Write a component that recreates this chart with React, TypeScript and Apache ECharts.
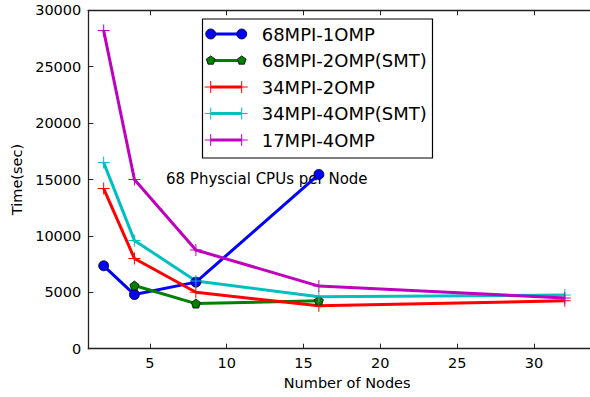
import React, { useEffect, useRef } from "react";
import * as echarts from "echarts";

const seriesNames = ["68MPI-1OMP", "68MPI-2OMP(SMT)", "34MPI-2OMP", "34MPI-4OMP(SMT)", "17MPI-4OMP"];
const nodes68x1 = [2, 4, 8, 16];
const time68x1 = [7350, 4800, 5900, 15450];
const nodes68x2 = [4, 8, 16];
const time68x2 = [5600, 4000, 4250];
const nodesAll = [2, 4, 8, 16, 32];
const time34x2 = [14200, 8000, 5000, 3800, 4250];
const time34x4 = [16500, 9600, 6000, 4600, 4750];
const time17x4 = [28200, 15000, 8750, 5550, 4500];
const xTicks = [5, 10, 15, 20, 25, 30];
const annotation = "68 Physcial CPUs per Node";

const colors = ["#0000ff", "#008000", "#ff0000", "#00bfbf", "#bf00bf"];
const FONT = "DejaVu Sans";

const PLUS = "path://M0,5.5H12V6.5H0Z M5.5,0H6.5V12H5.5Z";
const PENTA = "path://M5,0L9.76,3.45L7.94,9.05L2.06,9.05L0.24,3.45Z";

const pairs = (xs: number[], ys: number[]) => xs.map((x, i) => [x, ys[i]]);

function markerGraphic(kind: string, cx: number, cy: number, color: string): any[] {
  if (kind === "circle") {
    return [{ type: "circle", shape: { cx, cy, r: 5 }, style: { fill: color, stroke: "#000", lineWidth: 0.8 }, z: 12 }];
  }
  if (kind === "penta") {
    const pts: number[][] = [];
    for (let k = 0; k < 5; k++) {
      const a = -Math.PI / 2 + (k * 2 * Math.PI) / 5;
      pts.push([cx + 4.6 * Math.cos(a), cy + 4.6 * Math.sin(a)]);
    }
    return [{ type: "polygon", shape: { points: pts }, style: { fill: color, stroke: "#000", lineWidth: 0.8 }, z: 12 }];
  }
  return [
    { type: "line", shape: { x1: cx - 6, y1: cy, x2: cx + 6, y2: cy }, style: { stroke: color, lineWidth: 1 }, z: 12 },
    { type: "line", shape: { x1: cx, y1: cy - 6, x2: cx, y2: cy + 6 }, style: { stroke: color, lineWidth: 1 }, z: 12 },
  ];
}

export default function App() {
  const ref = useRef<HTMLDivElement>(null);
  useEffect(() => {
    if (!ref.current) return;
    const chart = echarts.init(ref.current, undefined, { renderer: "svg" });
    const kinds = ["circle", "penta", "plus", "plus", "plus"];
    const legendEls: any[] = [
      { type: "rect", shape: { x: 202.5, y: 19, width: 230, height: 139 }, style: { fill: "#fff", stroke: "#000", lineWidth: 1.2 }, z: 10 },
    ];
    seriesNames.forEach((name, i) => {
      const y = 34 + i * 26.5;
      legendEls.push({ type: "line", shape: { x1: 210.7, y1: y, x2: 241.7, y2: y }, style: { stroke: colors[i], lineWidth: 3 }, z: 11 });
      legendEls.push(...markerGraphic(kinds[i], 210.7, y, colors[i]));
      legendEls.push(...markerGraphic(kinds[i], 241.7, y, colors[i]));
      legendEls.push({
        type: "text", x: 261.7, y, z: 12,
        style: { text: name, fontSize: 18, fontFamily: FONT, fill: "#000", verticalAlign: "middle", align: "left" },
      });
    });
    legendEls.push({
      type: "text", x: 166, y: 179, z: 1,
      style: { text: annotation, fontSize: 15, fontFamily: FONT, fill: "#000", verticalAlign: "middle", align: "left" },
    });

    const lineSeries = (name: string, data: number[][], color: string, symbol: string, size: number, border: boolean) => ({
      name, type: "line", data, symbol, symbolSize: size, showSymbol: true,
      lineStyle: { color, width: 3 },
      itemStyle: border ? { color, borderColor: "#000", borderWidth: 0.8 } : { color, borderWidth: 0 },
      z: 3,
    });

    const axisCommon = {
      type: "value", min: 1, max: 33.64,
      axisLine: { show: true, lineStyle: { color: "#222", width: 1.3 } },
      axisTick: { show: true, inside: true, length: 5, customValues: xTicks, lineStyle: { color: "#222", width: 1 } },
      splitLine: { show: false },
    };

    chart.setOption({
      animation: false,
      grid: { left: 88.3, top: 10.3, right: 0, height: 338.4 },
      xAxis: [
        {
          ...axisCommon, position: "bottom",
          name: "Number of Nodes", nameLocation: "middle", nameGap: 26,
          nameTextStyle: { fontSize: 14.5, fontFamily: FONT, color: "#000", padding: [0, 0, 0, 16] },
          axisLabel: { customValues: xTicks, fontSize: 14.5, fontFamily: FONT, color: "#000", margin: 7 },
        },
        { ...axisCommon, position: "top", axisLabel: { show: false } },
      ],
      yAxis: {
        type: "value", min: 0, max: 30000, interval: 5000,
        name: "Time(sec)", nameLocation: "middle", nameGap: 60, nameRotate: 90,
        nameTextStyle: { fontSize: 14.5, fontFamily: FONT, color: "#000" },
        axisLine: { show: true, lineStyle: { color: "#222", width: 1.3 } },
        axisTick: { show: true, inside: true, length: 5, lineStyle: { color: "#222", width: 1 } },
        axisLabel: { fontSize: 14.5, fontFamily: FONT, color: "#000", margin: 7, formatter: (v: number) => String(v) },
        splitLine: { show: false },
      },
      series: [
        lineSeries(seriesNames[0], pairs(nodes68x1, time68x1), colors[0], "circle", 10, true),
        lineSeries(seriesNames[1], pairs(nodes68x2, time68x2), colors[1], PENTA, 9, true),
        lineSeries(seriesNames[2], pairs(nodesAll, time34x2), colors[2], PLUS, 12, false),
        lineSeries(seriesNames[3], pairs(nodesAll, time34x4), colors[3], PLUS, 12, false),
        lineSeries(seriesNames[4], pairs(nodesAll, time17x4), colors[4], PLUS, 12, false),
      ],
      graphic: { elements: legendEls },
    });
    return () => chart.dispose();
  }, []);
  return <div ref={ref} style={{ position: "absolute", left: 0, top: 0, width: 590, height: 397, background: "#fff" }} />;
}
